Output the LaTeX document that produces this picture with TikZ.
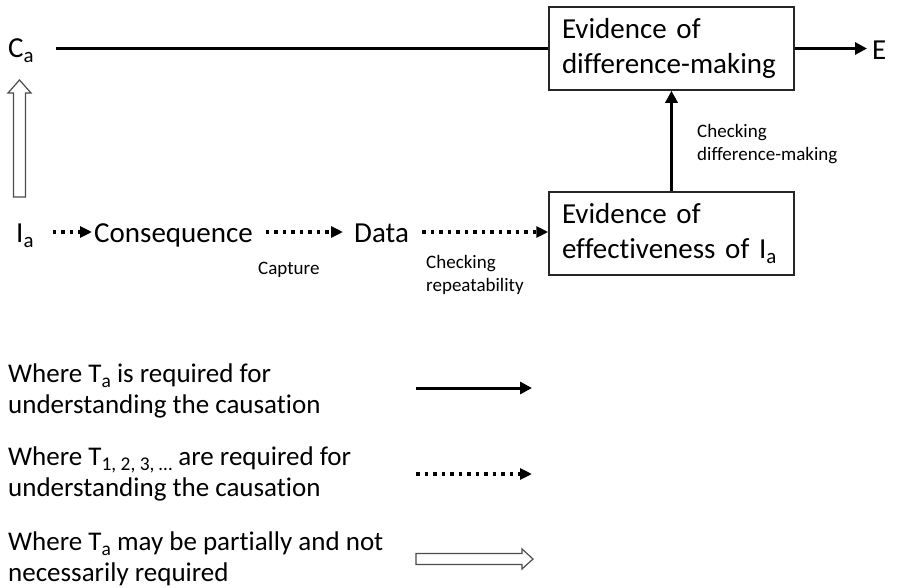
\documentclass[tikz,border=0pt]{standalone}
\usepackage{fontspec}
\setmainfont{Carlito}[Ligatures={NoCommon}]
\usetikzlibrary{arrows.meta,calc}
\newcommand{\mysub}[1]{\raisebox{-0.18em}{\scalebox{0.72}{#1}}}
\begin{document}
\begin{tikzpicture}[x=1pt,y=-1pt,
  big/.style={font=\fontsize{29}{34.5}\selectfont, inner sep=0pt},
  small/.style={font=\fontsize{19}{23}\selectfont, inner sep=0pt, align=left},
  legtext/.style={font=\fontsize{27}{31}\selectfont, inner sep=0pt, align=left},
  evbox/.style={draw=black!85, line width=1.5pt, minimum width=245pt, minimum height=83pt,
    text width=219pt, inner xsep=13pt, inner ysep=0pt, align=left, font=\fontsize{29}{34.5}\selectfont},
  solidarrow/.style={line width=3pt, -{Triangle[length=12pt,width=12pt]}},
  plainline/.style={line width=3pt},
  dotarrow/.style={line width=3.5pt, dash pattern=on 3.5pt off 5pt, -{Triangle[length=12pt,width=11pt]}},
  hollow/.style={draw=black!70, line width=1.2pt, fill=white},
]
\useasboundingbox (0,0) rectangle (897,587);

% boxes
\node[evbox] (evdm) at (671.5,48.5) {Evidence of\\difference-making};
\node[evbox] (evef) at (671.5,233.5) {Evidence of\\effectiveness of I\mysub{a}};

% text nodes
\node[big, anchor=base west] (Ca) at (8,57) {C\mysub{a}};
\node[big, anchor=base west] (E) at (872,59) {E};
\node[big, anchor=base west] (Ia) at (16,242) {I\mysub{a}};
\node[big, anchor=base west] (cons) at (94,242) {Consequence};
\node[big, anchor=base west] (data) at (354,242) {Data};
\coordinate (row) at (0,232);

% labels
\node[small, anchor=base west] (cap) at (258,274) {Capture};
\node[small, anchor=north west] (chkrep) at (426,255) {Checking\\repeatability};
\node[small, anchor=north west] (chkdm) at (697,124) {Checking\\difference-making};

% connectors
\draw[plainline] ([xshift=22pt]evdm.west -| Ca.east) -- (evdm.west);
\draw[solidarrow, shorten >=5pt] (evdm.east) -- (evdm.east -| E.west);
\draw[solidarrow] (evef.north) -- (evdm.south);
\draw[dotarrow, shorten <=19pt, shorten >=2pt] (Ia.east |- row) -- (cons.west |- row);
\draw[dotarrow, shorten <=13pt, shorten >=11pt] (cons.east |- row) -- (data.west |- row);
\draw[dotarrow, shorten <=13pt] (data.east |- row) -- (evef.west |- row);

% hollow arrow from I_a up to C_a
\coordinate (hb) at (19.5,197);
\coordinate (ht) at (19.5,80);
\draw[hollow] ($(hb)+(-6,0)$) -- ($(ht)+(-6,13)$) -- ($(ht)+(-11.5,13)$) -- (ht)
  -- ($(ht)+(11.5,13)$) -- ($(ht)+(6,13)$) -- ($(hb)+(6,0)$) -- cycle;

% legend
\node[legtext, anchor=north west] (leg1) at (8,363.5) {Where T\mysub{a} is required for\\understanding the causation};
\node[legtext, anchor=north west] (leg2) at (8,446.5) {Where T\mysub{1, 2, 3, …} are required for\\understanding the causation};
\node[legtext, anchor=north west] (leg3) at (8,531.5) {Where T\mysub{a} may be partially and not\\necessarily required};

\coordinate (l1s) at (416,388); \coordinate (l1e) at (532,388);
\coordinate (l2s) at (416,474); \coordinate (l2e) at (532,474);
\coordinate (l3s) at (416,559); \coordinate (l3e) at (533,559);
\draw[solidarrow] (l1s) -- (l1e);
\draw[dotarrow] (l2s) -- (l2e);
\draw[hollow] ($(l3s)+(0,-5.5)$) -- ($(l3e)+(-11,-5.5)$) -- ($(l3e)+(-11,-10)$) -- (l3e)
  -- ($(l3e)+(-11,10)$) -- ($(l3e)+(-11,5.5)$) -- ($(l3s)+(0,5.5)$) -- cycle;
\end{tikzpicture}
\end{document}
